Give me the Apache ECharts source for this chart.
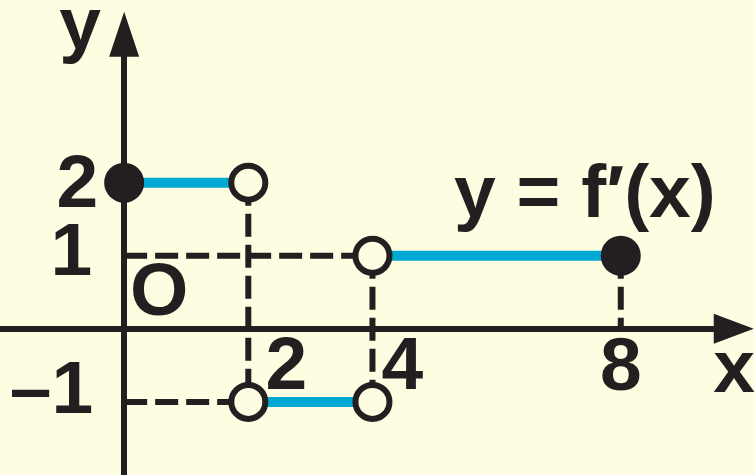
<!DOCTYPE html>
<html><head><meta charset="utf-8">
<script src="https://cdn.jsdelivr.net/npm/echarts@6/dist/echarts.min.js"></script>
<style>html,body{margin:0;padding:0;background:#FEFCE1}#c{width:755px;height:475px}</style>
</head><body><div id="c"></div>
<script>
// ---- data ----
const segStart = [0, 2, 4];
const segEnd = [2, 4, 8];
const segValue = [2, -1, 1];
const closedPoints = [[0, 2], [8, 1]];
const openPoints = [[2, 2], [2, -1], [4, -1], [4, 1]];
const guideLines = [
  [[0, 1], [4, 1]],
  [[2, 2], [2, -1]],
  [[4, 1], [4, -1]],
  [[0, -1], [2, -1]],
  [[8, 1], [8, 0]]
];
const yTickValues = [2, 1, -1];
const yTickLabels = ['2', '1', '\u20131'];
const xTickValues = [2, 4, 8];
const xTickLabels = ['2', '4', '8'];
const originLabel = 'O';
const xName = 'x';
const yName = 'y';
const funcLabel = 'y = f\u2032(x)';

// ---- style / layout ----
const INK = '#231F20';
const BLUE = '#00A9D4';
const BG = '#FEFCE1';
const FONT = "bold 75px 'Liberation Sans', Arial, sans-serif";
const yTickOffset = [[-26, 4], [-32, -1], [-31, -10]];
const xTickOffset = [[38, 39], [30, 39], [0, 40]];
const originOffset = [35, -35];

const chart = echarts.init(document.getElementById('c'), null, {renderer: 'canvas'});

function lbl(text, off, align) {
  return {
    show: true, position: 'inside', formatter: text, offset: off,
    align: align || 'center', verticalAlign: 'middle', opacity: 1,
    fontFamily: "'Liberation Sans', Arial, sans-serif", fontWeight: 'bold', fontSize: 75, color: INK
  };
}

const series = [];
guideLines.forEach(function (g) {
  series.push({
    type: 'line', data: g, symbol: 'none', silent: true, z: 1,
    lineStyle: {color: INK, width: 6, type: [23, 8], cap: 'butt'}
  });
});
segStart.forEach(function (s, i) {
  series.push({
    type: 'line', data: [[s, segValue[i]], [segEnd[i], segValue[i]]], symbol: 'none', silent: true, z: 2,
    lineStyle: {color: BLUE, width: 10, cap: 'butt'}
  });
});
series.push({
  type: 'scatter', data: openPoints, symbol: 'circle', symbolSize: 34, z: 3, silent: true,
  itemStyle: {color: BG, borderColor: INK, borderWidth: 6, opacity: 1}
});
series.push({
  type: 'scatter', data: closedPoints, symbol: 'circle', symbolSize: 40, z: 3, silent: true,
  itemStyle: {color: INK, opacity: 1}
});
const labelData = [];
yTickValues.forEach(function (v, i) {
  labelData.push({value: [0, v], label: lbl(yTickLabels[i], yTickOffset[i], 'right')});
});
xTickValues.forEach(function (v, i) {
  labelData.push({value: [v, 0], label: lbl(xTickLabels[i], xTickOffset[i], 'center')});
});
labelData.push({value: [0, 0], label: lbl(originLabel, originOffset, 'center')});
series.push({
  type: 'scatter', data: labelData, symbolSize: 1, z: 4, silent: true,
  itemStyle: {color: 'rgba(0,0,0,0)', opacity: 1}
});

function txt(text, x, y, align) {
  return {
    type: 'text', x: x, y: y, silent: true, z: 10,
    style: {text: text, font: FONT, fill: INK, align: align, verticalAlign: 'middle', textAlign: align, textVerticalAlign: 'middle'}
  };
}

chart.setOption({
  backgroundColor: BG,
  animation: false,
  grid: {left: -5, top: 34.3, width: 738.75, height: 443.2, containLabel: false},
  xAxis: {
    type: 'value', min: -2, max: 9.82,
    axisLine: {show: true, onZero: true, symbol: ['none', 'triangle'], symbolSize: [30, 40], lineStyle: {color: INK, width: 6}},
    axisTick: {show: false}, axisLabel: {show: false}, splitLine: {show: false}
  },
  yAxis: {
    type: 'value', min: -2, max: 4.03,
    axisLine: {show: true, onZero: true, symbol: ['none', 'triangle'], symbolSize: [30, 45], lineStyle: {color: INK, width: 6}},
    axisTick: {show: false}, axisLabel: {show: false}, splitLine: {show: false}
  },
  graphic: [
    txt(yName, 80, 28, 'center'),
    txt(xName, 734, 371, 'center'),
    txt(funcLabel, 454, 196, 'left')
  ],
  series: series
});
</script>
</body></html>
